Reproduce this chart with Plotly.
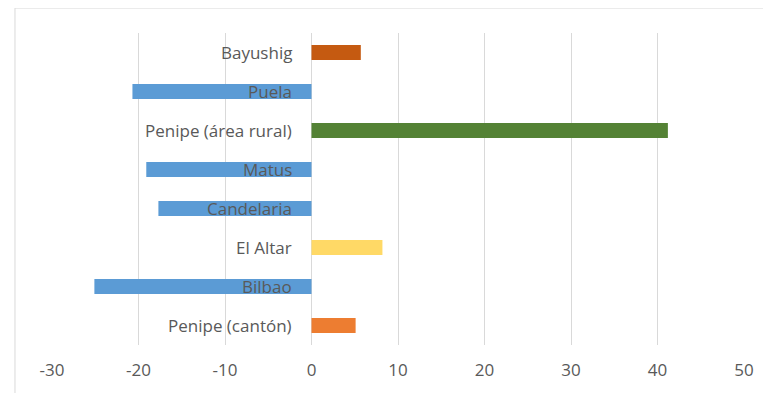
import plotly.graph_objects as go

# data
places = ["Bayushig", "Puela", "Penipe (área rural)", "Matus",
          "Candelaria", "El Altar", "Bilbao", "Penipe (cantón)"]
values = [5.7, -20.7, 41.2, -19.1, -17.7, 8.2, -25.1, 5.1]
bar_colors = ["#C55A11", "#5B9BD5", "#548235", "#5B9BD5",
              "#5B9BD5", "#FFD966", "#5B9BD5", "#ED7D31"]
x_ticks = [-30, -20, -10, 0, 10, 20, 30, 40, 50]

text_color = "#595959"
font_family = "Open Sans, Liberation Sans, sans-serif"

fig = go.Figure(
    go.Bar(
        y=places,
        x=values,
        orientation="h",
        marker=dict(color=bar_colors, line=dict(width=0)),
        hoverinfo="x+y",
    )
)

# category labels sit just left of zero, like the original
for name in places:
    fig.add_annotation(
        x=0, y=name, xref="x", yref="y",
        text=name, showarrow=False,
        xanchor="right", xshift=-18,
        font=dict(size=17, color=text_color, family=font_family),
    )

fig.update_layout(
    width=771, height=393,
    margin=dict(l=44, r=35, t=25, b=56),
    plot_bgcolor="white",
    paper_bgcolor="white",
    showlegend=False,
    bargap=0.61,
    xaxis=dict(
        range=[-30, 50],
        tickvals=x_ticks,
        ticktext=[str(v) for v in x_ticks],
        showgrid=True,
        gridcolor="#D9D9D9",
        gridwidth=1,
        zeroline=False,
        showline=False,
        ticks="",
        ticklabelstandoff=13,
        tickfont=dict(size=17, color=text_color, family=font_family),
        fixedrange=True,
    ),
    yaxis=dict(
        categoryorder="array",
        categoryarray=places[::-1],
        showticklabels=False,
        showgrid=False,
        zeroline=False,
        showline=False,
        ticks="",
        fixedrange=True,
    ),
    shapes=[
        dict(
            type="rect", xref="paper", yref="paper",
            x0=-0.0535, x1=1.06, y0=-0.3, y1=1.08,
            line=dict(color="#D9D9D9", width=1),
            fillcolor="rgba(0,0,0,0)",
            layer="below",
        )
    ],
)

fig.write_html("out.html")
